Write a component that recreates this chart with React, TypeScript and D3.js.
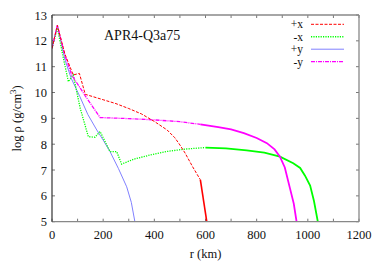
import React from "react";
import * as d3 from "d3";

const xTicks = [0, 200, 400, 600, 800, 1000, 1200];
const xMinor = [100, 300, 500, 700, 900, 1100];
const yTicks = [5, 6, 7, 8, 9, 10, 11, 12, 13];

// +x (red)
const plusX: [number, number][] = [
  [0, 11.71], [21, 12.6], [50, 11.5], [83, 10.68], [107, 10.74], [130, 9.93],
  [200, 9.72], [250, 9.57], [300, 9.38], [350, 9.17], [400, 8.88], [450, 8.55],
  [480, 8.25], [500, 7.97], [520, 7.66], [550, 7.12], [580, 6.62], [605, 5.0],
];
const plusXSplit = 580;
// -x (green)
const minusX: [number, number][] = [
  [0, 11.71], [21, 12.5], [45, 11.3], [64, 10.42], [83, 10.68], [110, 9.4],
  [142, 8.29], [168, 8.27], [188, 8.49], [227, 7.71], [253, 7.71], [272, 7.23],
  [320, 7.42], [383, 7.58], [450, 7.72], [520, 7.81], [600, 7.87], [680, 7.84],
  [761, 7.76], [830, 7.67], [891, 7.52], [943, 7.26], [970, 7.08], [989, 6.78],
  [1009, 6.4], [1024, 5.8], [1039, 5.0],
];
const minusXSplit = 600;
// +y (blue)
const plusY: [number, number][] = [
  [0, 11.71], [21, 12.6], [51, 11.26], [75, 10.55], [109, 9.84], [140, 9.15],
  [175, 8.55], [200, 8.16], [227, 7.71], [260, 7.05], [292, 6.35], [310, 5.75],
  [324, 5.0],
];
// -y (magenta)
const minusY: [number, number][] = [
  [0, 11.71], [21, 12.6], [50, 11.45], [77, 10.68], [130, 9.87], [188, 9.03],
  [300, 8.99], [400, 8.94], [500, 8.87], [580, 8.77], [650, 8.66], [700, 8.57],
  [750, 8.43], [800, 8.24], [840, 8.04], [870, 7.8], [891, 7.52], [910, 7.1],
  [930, 6.3], [945, 5.7], [956, 5.0],
];
const minusYSplit = 580;

const legendLabels = ["+x", "-x", "+y", "-y"];

const W = 374, H = 262;
const L = 52, R = 359, T = 15, B = 221.7;
const font = "'Liberation Serif', 'Times New Roman', 'DejaVu Serif', serif";

export default function App() {
  const x = d3.scaleLinear().domain([0, 1200]).range([L, R]);
  const y = d3.scaleLinear().domain([5, 13]).range([B, T]);
  const line = d3.line<[number, number]>().x((d) => x(d[0])).y((d) => y(d[1]));

  const split = (data: [number, number][], s: number) => {
    const a = data.filter((d) => d[0] <= s);
    const b = data.slice(a.length - 1);
    return [a, b] as const;
  };
  const [rxA, rxB] = split(plusX, plusXSplit);
  const [gxA, gxB] = split(minusX, minusXSplit);
  const [myA, myB] = split(minusY, minusYSplit);

  const legendStyles = [
    { stroke: "#ff0000", dash: "3,1.5", w: 1 },
    { stroke: "#00ff00", dash: "1.2,1.2", w: 1.4 },
    { stroke: "#8080ff", dash: undefined, w: 1 },
    { stroke: "#ff00ff", dash: "4,1,1,1", w: 1.4 },
  ];

  const ts: React.CSSProperties = { fontFamily: font };

  return (
    <svg width={W} height={H} style={{ display: "block", position: "absolute", left: 0, top: 0 }}>
      <rect width={W} height={H} fill="#fff" />
      <defs>
        <clipPath id="plot">
          <rect x={L} y={T} width={R - L} height={B - T} />
        </clipPath>
      </defs>
      {xTicks.concat(xMinor).map((t) => (
        <g key={"xt" + t} stroke="#777" strokeWidth={1}>
          <line x1={x(t)} x2={x(t)} y1={B} y2={B - 3} />
          <line x1={x(t)} x2={x(t)} y1={T} y2={T + 3} />
        </g>
      ))}
      {yTicks.map((t) => (
        <g key={"yt" + t} stroke="#777" strokeWidth={1}>
          <line x1={L} x2={L + 3} y1={y(t)} y2={y(t)} />
          <line x1={R} x2={R - 3} y1={y(t)} y2={y(t)} />
        </g>
      ))}
      <g clipPath="url(#plot)" fill="none">
        <path d={line(plusY) || ""} stroke="#8080ff" strokeWidth={1} />
        <path d={line(gxA) || ""} stroke="#00ff00" strokeWidth={1.3} strokeDasharray="1.2,1.2" />
        <path d={line(gxB) || ""} stroke="#00ff00" strokeWidth={1.8} />
        <path d={line(myA) || ""} stroke="#ff00ff" strokeWidth={1.3} strokeDasharray="4,1,1,1" />
        <path d={line(myB) || ""} stroke="#ff00ff" strokeWidth={1.8} />
        <path d={line(rxA) || ""} stroke="#ff0000" strokeWidth={1} strokeDasharray="3,1.5" />
        <path d={line(rxB) || ""} stroke="#ff0000" strokeWidth={1.6} />
      </g>
      <line x1={L} x2={R} y1={T} y2={T} stroke="#888" strokeWidth={1.3} />
      <line x1={R} x2={R} y1={T} y2={B} stroke="#888" strokeWidth={1.3} />
      <line x1={L} x2={R} y1={B} y2={B} stroke="#888" strokeWidth={1.3} />
      <line x1={L} x2={L} y1={T} y2={B} stroke="#333" strokeWidth={1.2} />
      {xTicks.map((t) => (
        <text key={"xl" + t} x={x(t)} y={B + 17} textAnchor="middle" style={ts} fontSize={12.5} fill="#111">
          {t}
        </text>
      ))}
      {yTicks.map((t) => (
        <text key={"yl" + t} x={L - 5} y={y(t) + 4.5} textAnchor="end" style={ts} fontSize={12.5} fill="#111">
          {t}
        </text>
      ))}
      <text x={(L + R) / 2} y={B + 36} textAnchor="middle" style={ts} fontSize={12.5} fill="#111">
        r (km)
      </text>
      <text transform={`translate(21,${(T + B) / 2}) rotate(-90)`} textAnchor="middle" style={ts} fontSize={12.5} fill="#111">
        log ρ (g/cm<tspan dy={-5} fontSize={9}>3</tspan><tspan dy={5}>)</tspan>
      </text>
      <text x={104} y={40} style={ts} fontSize={14} fill="#111">
        APR4-Q3a75
      </text>
      {legendLabels.map((lab, i) => {
        const ly = 24.3 + i * 12.45;
        const s = legendStyles[i];
        return (
          <g key={lab}>
            <text x={303} y={ly + 4} textAnchor="end" style={ts} fontSize={11.5} fill="#111">
              {lab}
            </text>
            <line x1={311} x2={344} y1={ly} y2={ly} stroke={s.stroke} strokeWidth={s.w} strokeDasharray={s.dash} />
          </g>
        );
      })}
    </svg>
  );
}
